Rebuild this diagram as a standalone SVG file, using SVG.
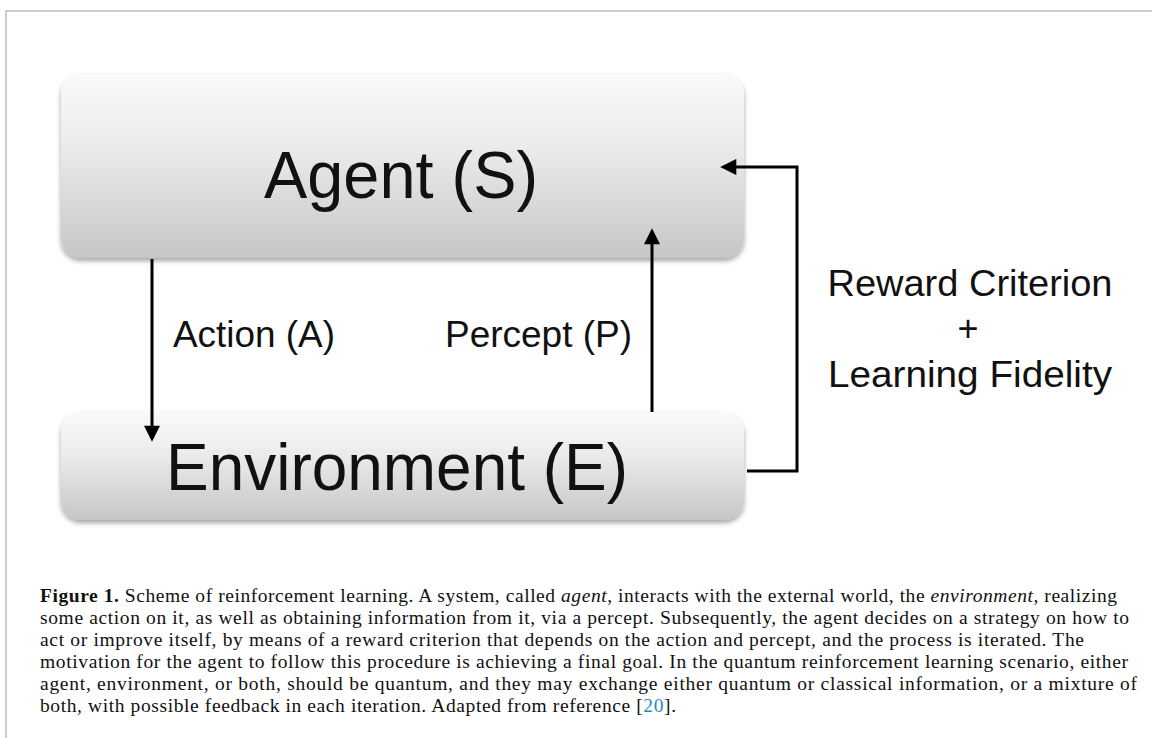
<svg xmlns="http://www.w3.org/2000/svg" width="1152" height="738" viewBox="0 0 1152 738">
  <defs>
    <linearGradient id="boxGrad" x1="0" y1="0" x2="0" y2="1">
      <stop offset="0" stop-color="#fafafa"/>
      <stop offset="0.4" stop-color="#ebebeb"/>
      <stop offset="1" stop-color="#c6c6c6"/>
    </linearGradient>
    <filter id="shadow" x="-5%" y="-10%" width="110%" height="130%">
      <feDropShadow dx="0" dy="3" stdDeviation="2.5" flood-color="#000" flood-opacity="0.35"/>
    </filter>
    <marker id="arrow" viewBox="0 0 10 10" refX="7" refY="5" markerWidth="5.7" markerHeight="5.4" orient="auto" markerUnits="strokeWidth">
      <path d="M0,0 L10,5 L0,10 Z" fill="#000"/>
    </marker>
    <style>
      .box { fill: url(#boxGrad); filter: url(#shadow); }
      .big { font-family: "Liberation Sans", Arial, sans-serif; font-size: 66px; fill: #111; }
      .lbl { font-family: "Liberation Sans", Arial, sans-serif; font-size: 36px; fill: #111; }
      .conn { fill: none; stroke: #000; stroke-width: 3; }
      .cap { font-family: "Liberation Serif", "Times New Roman", serif; font-size: 19.5px; fill: #111; }
      .frame { fill: none; stroke: #bfbfbf; stroke-width: 1.5; }
    </style>
  </defs>
  <rect width="1152" height="738" fill="#fff"/>
  <path class="frame" d="M6,738 V11 H1152"/>

  <g id="agent">
    <rect class="box" x="61" y="74" width="683" height="184" rx="20"/>
    <text class="big" x="401" y="198" text-anchor="middle" textLength="274" lengthAdjust="spacingAndGlyphs">Agent (S)</text>
  </g>

  <g id="environment">
    <rect class="box" x="61" y="412" width="683" height="108" rx="20"/>
    <text class="big" x="397" y="490" text-anchor="middle" textLength="462" lengthAdjust="spacingAndGlyphs">Environment (E)</text>
  </g>

  <g id="connectors">
    <line class="conn" x1="152" y1="259" x2="152" y2="437" marker-end="url(#arrow)"/>
    <line class="conn" x1="652" y1="412" x2="652" y2="233" marker-end="url(#arrow)"/>
    <polyline class="conn" points="747,471 797,471 797,167 725,167" marker-end="url(#arrow)"/>
  </g>

  <g id="labels">
    <text class="lbl" x="173" y="347" textLength="162" lengthAdjust="spacingAndGlyphs">Action (A)</text>
    <text class="lbl" x="445" y="347" textLength="187" lengthAdjust="spacingAndGlyphs">Percept (P)</text>
    <text class="lbl" x="970" y="296" text-anchor="middle" textLength="285" lengthAdjust="spacingAndGlyphs">Reward Criterion</text>
    <text class="lbl" x="968" y="341" text-anchor="middle">+</text>
    <text class="lbl" x="970" y="387" text-anchor="middle" textLength="284" lengthAdjust="spacingAndGlyphs">Learning Fidelity</text>
  </g>

  <g id="caption" class="cap">
    <text x="40" y="602" textLength="1077" lengthAdjust="spacing"><tspan font-weight="bold">Figure 1.</tspan> Scheme of reinforcement learning. A system, called <tspan font-style="italic">agent</tspan>, interacts with the external world, the <tspan font-style="italic">environment</tspan>, realizing</text>
    <text x="40" y="624" textLength="1089" lengthAdjust="spacing">some action on it, as well as obtaining information from it, via a percept. Subsequently, the agent decides on a strategy on how to</text>
    <text x="40" y="646" textLength="1044" lengthAdjust="spacing">act or improve itself, by means of a reward criterion that depends on the action and percept, and the process is iterated. The</text>
    <text x="40" y="668" textLength="1088" lengthAdjust="spacing">motivation for the agent to follow this procedure is achieving a final goal. In the quantum reinforcement learning scenario, either</text>
    <text x="40" y="690" textLength="1097" lengthAdjust="spacing">agent, environment, or both, should be quantum, and they may exchange either quantum or classical information, or a mixture of</text>
    <text x="40" y="712" textLength="636" lengthAdjust="spacing">both, with possible feedback in each iteration. Adapted from reference [<tspan fill="#2a8ac4">20</tspan>].</text>
  </g>
</svg>
